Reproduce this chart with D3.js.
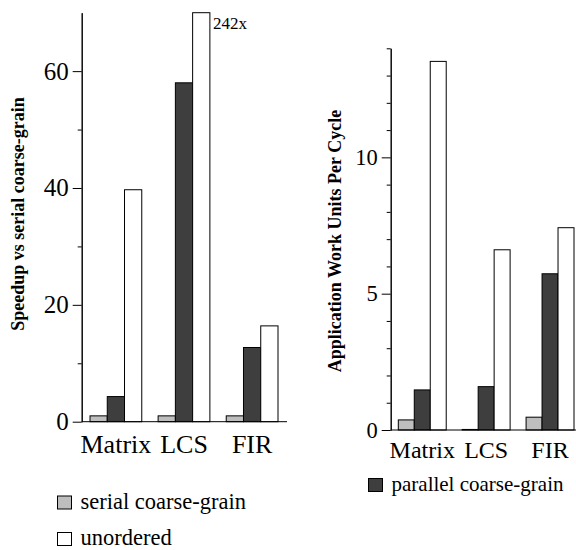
<!DOCTYPE html>
<html>
<head>
<meta charset="utf-8">
<script src="https://cdn.jsdelivr.net/npm/d3@7"></script>
<style>
	body { margin: 0; background: #fff; }
	svg, svg text { font-family: "Liberation Serif", "Times New Roman", serif; }
	.title { font-weight: bold; }
	.axis text { fill: #000; }
</style>
</head>
<body>
<div id="chart"></div>
<script>
// data
const categories = ['Matrix', 'LCS', 'FIR'];
const seriesNames = ['serial coarse-grain', 'parallel coarse-grain', 'unordered'];
const seriesColors = ['#bebebe', '#3e3e3e', '#ffffff'];

const speedupSerial = [1, 1, 1];
const speedupParallel = [4.3, 58, 12.7];
const speedupUnordered = [39.7, 242, 16.4];
const speedupTicks = [0, 20, 40, 60];
const speedupMinorTicks = [10, 30, 50];

const workSerial = [0.37, 0.02, 0.47];
const workParallel = [1.47, 1.59, 5.73];
const workUnordered = [13.52, 6.61, 7.42];
const workTicks = [0, 5, 10];
const workMinorTicks = [1, 2, 3, 4, 6, 7, 8, 9, 11, 12, 13, 14];

const width = 576, height = 550;

const svg = d3.select('#chart').append('svg')
	.attr('width', width)
	.attr('height', height);

function rows(a, b, c) {
	return categories.map((cat, i) => ({ cat: cat, values: [a[i], b[i], c[i]] }));
}

function drawChart(cfg) {
	const g = svg.append('g');

	const x = d3.scaleBand()
		.domain(categories)
		.range(cfg.xRange)
		.paddingInner(cfg.padding)
		.paddingOuter(0);

	const xs = d3.scaleBand()
		.domain(d3.range(3))
		.range([0, x.bandwidth()]);

	const y = d3.scaleLinear()
		.domain(cfg.yDomain)
		.range(cfg.yRange)
		.clamp(true);

	// bars
	const groups = g.selectAll('.grp')
		.data(rows(...cfg.series))
		.join('g')
		.attr('class', 'grp')
		.attr('transform', d => `translate(${x(d.cat)},0)`);

	groups.selectAll('rect')
		.data(d => d.values)
		.join('rect')
		.attr('x', (d, i) => xs(i))
		.attr('y', d => y(d))
		.attr('width', xs.bandwidth())
		.attr('height', d => y(0) - y(d))
		.attr('fill', (d, i) => seriesColors[i])
		.attr('stroke', '#000')
		.attr('stroke-width', 1);

	// minor ticks first, then labelled ones
	g.append('g')
		.attr('class', 'axis')
		.attr('transform', `translate(${cfg.axisX},0)`)
		.call(d3.axisLeft(y).tickValues(cfg.minor).tickSize(4).tickSizeOuter(0).tickFormat(''));

	g.append('g')
		.attr('class', 'axis')
		.attr('transform', `translate(${cfg.axisX},0)`)
		.call(d3.axisLeft(y).tickValues(cfg.ticks).tickSize(9).tickSizeOuter(0).tickPadding(4));

	// drop d3's default sans-serif 10px on the axis groups
	g.selectAll('.axis').attr('font-family', null).attr('font-size', cfg.tickFont);
	g.selectAll('.axis path, .axis line').attr('stroke', '#000');

	// baseline
	g.append('line')
		.attr('x1', cfg.axisX).attr('x2', cfg.baseEnd)
		.attr('y1', y(0)).attr('y2', y(0))
		.attr('stroke', '#000');

	g.selectAll('.cat')
		.data(categories)
		.join('text')
		.attr('class', 'cat')
		.attr('x', d => x(d) + x.bandwidth() / 2)
		.attr('y', cfg.catY)
		.attr('text-anchor', 'middle')
		.attr('font-size', cfg.catFont)
		.text(d => d);

	g.append('text')
		.attr('class', 'title')
		.attr('transform', `translate(${cfg.titleX},${cfg.titleY}) rotate(-90)`)
		.attr('text-anchor', 'middle')
		.attr('font-size', 18)
		.text(cfg.title);

	return { x: x, xs: xs, y: y, g: g };
}

const left = drawChart({
	series: [speedupSerial, speedupParallel, speedupUnordered],
	xRange: [90, 278],
	padding: 0.24,
	yDomain: [0, 70],
	yRange: [421.7, 12.7],
	axisX: 81.7,
	baseEnd: 287,
	ticks: speedupTicks,
	minor: speedupMinorTicks,
	tickFont: 25,
	catY: 452.5,
	catFont: 26,
	title: 'Speedup vs serial coarse-grain',
	titleX: 24,
	titleY: 214
});

// off-scale value label for the clipped LCS bar
left.g.append('text')
	.attr('x', left.x('LCS') + left.xs(2) + left.xs.bandwidth() + 3)
	.attr('y', left.y(left.y.domain()[1]) + 16)
	.attr('font-size', 17)
	.text(speedupUnordered[1] + 'x');

drawChart({
	series: [workSerial, workParallel, workUnordered],
	xRange: [398.3, 574],
	padding: 0.25,
	yDomain: [0, 14],
	yRange: [430, 48.3],
	axisX: 390.7,
	baseEnd: 576,
	ticks: workTicks,
	minor: workMinorTicks,
	tickFont: 22.5,
	catY: 457.5,
	catFont: 24,
	title: 'Application Work Units Per Cycle',
	titleX: 341,
	titleY: 241
});

// legends
const legendItems = [
	{ i: 0, x: 57.5, y: 496, size: 22.5 },
	{ i: 2, x: 57.5, y: 532.5, size: 22.5 },
	{ i: 1, x: 368.5, y: 478.5, size: 21 }
];

const legend = svg.append('g').attr('class', 'legend');
const item = legend.selectAll('g')
	.data(legendItems)
	.join('g')
	.attr('transform', d => `translate(${d.x},${d.y})`);

item.append('rect')
	.attr('width', 14)
	.attr('height', 13)
	.attr('fill', d => seriesColors[d.i])
	.attr('stroke', '#000');

item.append('text')
	.attr('x', 23)
	.attr('y', 12.5)
	.attr('font-size', d => d.size)
	.text(d => seriesNames[d.i]);
</script>
</body>
</html>
